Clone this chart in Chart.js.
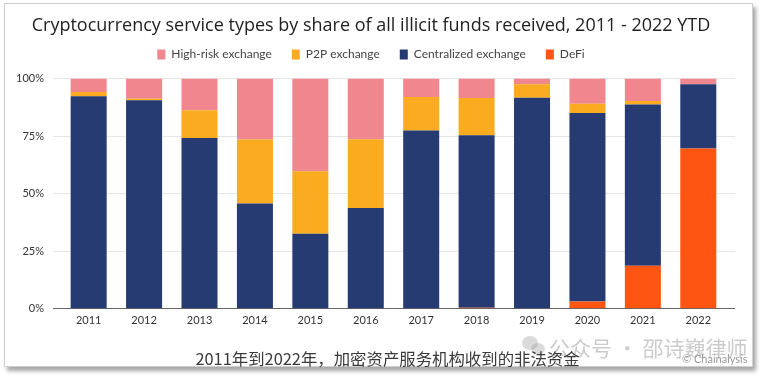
<!DOCTYPE html>
<html><head><meta charset="utf-8">
<script src="https://cdn.jsdelivr.net/npm/chart.js@4"></script>
<style>
html,body{margin:0;padding:0;background:#fff;width:763px;height:380px;overflow:hidden;}
#frame{position:absolute;left:4px;top:3px;width:747px;height:362px;border:1px solid #cfcfcf;background:#fff;box-shadow:3px 4px 4px rgba(0,0,0,0.35);}
#wrap{position:absolute;left:0;top:0;width:763px;height:338px;}
#cap{position:absolute;left:6px;width:763px;top:347px;text-align:center;font-family:"Noto Sans CJK SC";font-size:16.4px;color:#3a3a3a;line-height:22px;}
#wm{position:absolute;left:549px;top:332px;font-family:"Noto Sans CJK SC";font-size:21px;color:rgba(140,140,140,0.45);line-height:30px;white-space:nowrap;}
.bub{position:absolute;border-radius:50%;background:rgba(150,150,150,0.35);}
#copy{position:absolute;left:682px;top:352px;font-family:Lato;font-size:11px;color:#9a9a9a;}
</style></head>
<body>
<div id="frame"></div>
<div id="wrap"><canvas id="c" width="763" height="338"></canvas></div>
<div class="bub" style="left:522px;top:336px;width:16px;height:14px;"></div>
<div class="bub" style="left:531px;top:343px;width:14px;height:12px;"></div>
<div id="wm">公众号 · 邵诗巍律师</div>
<div id="copy">© Chainalysis</div>
<div id="cap">2011年到2022年，加密资产服务机构收到的非法资金</div>
<script>
const years = ['2011','2012','2013','2014','2015','2016','2017','2018','2019','2020','2021','2022'];
const defi        = [0,   0,    0,  0,    0,    0,  0,    0.5, 0,    3.2, 18.7, 69.6];
const centralized = [92.3,90.6, 74.2,45.7, 32.6, 43.8,77.5, 74.9,91.7, 81.9,70.0, 27.9];
const p2p         = [1.9, 0.6,  12.0,27.8, 27.1, 29.8,14.5, 16.2,5.8,  4.0, 1.6,  0];
const highRisk    = [5.8, 8.8,  13.8,26.5, 40.3, 26.4,8.0,  8.4, 2.5,  10.9,9.7,  2.5];
const yTicks = [0,25,50,75,100];

const legendGap = {
  id:'legendGap',
  beforeInit(chart){
    const lg = chart.legend; const f = lg.fit;
    lg.fit = function(){ f.call(lg); lg.height += 8; };
  }
};

const cfg = {
  type:'bar',
  data:{labels:years,datasets:[
    {label:'DeFi',data:defi,backgroundColor:'#FF5512'},
    {label:'Centralized exchange',data:centralized,backgroundColor:'#263B71'},
    {label:'P2P exchange',data:p2p,backgroundColor:'#FBAB1F'},
    {label:'High-risk exchange',data:highRisk,backgroundColor:'#F0868E'}
  ]},
  options:{
    responsive:false,animation:false,
    layout:{padding:{top:4,left:7,right:28,bottom:6}},
    datasets:{bar:{barPercentage:0.65,categoryPercentage:1}},
    plugins:{
      title:{display:true,text:'Cryptocurrency service types by share of all illicit funds received, 2011 - 2022 YTD',
        color:'#222',font:{family:'Open Sans',size:18,weight:'normal'},padding:{top:11,bottom:-8}},
      legend:{reverse:true,labels:{boxWidth:8,boxHeight:10,color:'#444',font:{family:'Lato',size:12},padding:20}},
      tooltip:{enabled:false}
    },
    scales:{
      x:{stacked:true,grid:{display:false,drawTicks:false},border:{display:false},
         ticks:{color:'#333',font:{family:'Lato',size:11},padding:5}},
      y:{stacked:true,min:0,max:100,
         afterBuildTicks:(s)=>{s.ticks=yTicks.map(v=>({value:v}));},
         grid:{color:(c)=>c.tick&&c.tick.value===0?'#666':'#e6e6e6',tickLength:8},
         border:{display:false},
         ticks:{color:'#333',font:{family:'Lato',size:11},padding:9,callback:(v)=>v+'%'}},
      y2:{position:'right',min:0,max:100,
         afterBuildTicks:(s)=>{s.ticks=yTicks.map(v=>({value:v}));},
         grid:{drawOnChartArea:false,color:(c)=>c.tick&&c.tick.value===0?'#666':'#e6e6e6',tickLength:9},
         border:{display:false},ticks:{display:false}}
    }
  },
  plugins:[legendGap]
};
const ch = new Chart(document.getElementById('c'),cfg);
</script>
</body></html>
